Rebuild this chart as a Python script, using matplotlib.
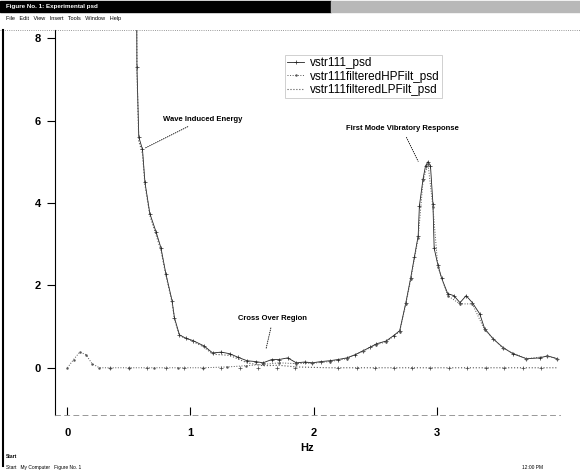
import matplotlib
matplotlib.use("Agg")
import matplotlib.pyplot as plt
from matplotlib.patches import Rectangle

plt.rcParams['font.family'] = ['Liberation Sans', 'DejaVu Sans']

# total psd (measured)
freq_psd = [0.555, 0.565, 0.58, 0.61, 0.63, 0.67, 0.72, 0.76, 0.80, 0.85, 0.87, 0.91, 0.96,
            1.02, 1.11, 1.18, 1.25, 1.32, 1.39, 1.46, 1.53, 1.59, 1.66, 1.72, 1.79, 1.86,
            1.93, 1.99, 2.06, 2.13, 2.20, 2.27, 2.34, 2.40, 2.46, 2.51, 2.59, 2.65, 2.70,
            2.75, 2.79, 2.82, 2.85, 2.86, 2.89, 2.91, 2.93, 2.95, 2.97, 2.98, 3.01, 3.04,
            3.09, 3.14, 3.19, 3.24, 3.29, 3.35, 3.39, 3.46, 3.54, 3.62, 3.73, 3.84, 3.90, 3.98]
val_psd = [14.0, 7.3, 5.6, 5.3, 4.5, 3.74, 3.3, 2.91, 2.28, 1.63, 1.21, 0.8, 0.72,
           0.66, 0.53, 0.36, 0.38, 0.34, 0.25, 0.17, 0.15, 0.12, 0.2, 0.2, 0.24, 0.12,
           0.14, 0.12, 0.15, 0.17, 0.2, 0.24, 0.32, 0.41, 0.5, 0.58, 0.65, 0.78, 0.9,
           1.58, 2.19, 2.7, 3.2, 3.93, 4.59, 4.9, 5.0, 4.9, 3.98, 2.9, 2.5, 2.18,
           1.8, 1.75, 1.58, 1.75, 1.58, 1.31, 0.95, 0.7, 0.49, 0.34, 0.22, 0.24, 0.29, 0.22]

# high pass filtered psd
freq_hp = [0.0, 0.05, 0.10, 0.15, 0.20, 0.26, 0.35, 0.5, 0.7, 0.9, 1.1, 1.3, 1.45, 1.59,
           1.72, 1.86, 1.99, 2.13, 2.27, 2.40, 2.51, 2.59, 2.70, 2.75, 2.79, 2.85, 2.89,
           2.93, 2.97, 3.01, 3.09, 3.19, 3.29, 3.39, 3.54, 3.73, 3.90, 3.98]
val_hp = [0.0, 0.2, 0.38, 0.32, 0.1, 0.0, 0.0, 0.0, 0.0, 0.0, 0.0, 0.02, 0.05, 0.08,
          0.12, 0.1, 0.11, 0.15, 0.22, 0.4, 0.56, 0.63, 0.88, 1.55, 2.15, 3.15, 4.55,
          4.95, 3.9, 2.45, 1.75, 1.55, 1.55, 0.92, 0.47, 0.22, 0.28, 0.22]

# low pass filtered psd
freq_lp = [0.555, 0.565, 0.58, 0.61, 0.63, 0.67, 0.76, 0.80, 0.85, 0.87, 0.91, 1.02,
           1.11, 1.18, 1.32, 1.46, 1.59, 1.72, 1.86, 1.99, 2.13, 2.3, 2.5, 2.8, 3.1,
           3.4, 3.7, 3.98]
val_lp = [14.0, 7.2, 5.5, 5.2, 4.45, 3.7, 2.85, 2.25, 1.6, 1.18, 0.78, 0.64,
          0.5, 0.33, 0.3, 0.12, 0.05, 0.06, 0.02, 0.01, 0.0, 0.0, 0.0, 0.0, 0.0,
          0.0, 0.0, 0.0]

# zero line markers on the flat part of the filtered curves
freq_flat = [0.35, 0.5, 0.65, 0.8, 0.95, 1.1, 1.25, 1.4, 1.55, 1.7, 1.85, 2.2, 2.35,
             2.5, 2.65, 2.8, 2.95, 3.1, 3.25, 3.4, 3.55, 3.7, 3.85]
val_flat = [0.0] * len(freq_flat)

xticks = [0, 1, 2, 3]
yticks = [0, 2, 4, 6, 8]

fig = plt.figure(figsize=(5.8, 4.75), dpi=100)

# window chrome: title bar, menu, border, status bar
fig.patches.append(Rectangle((0.0, 0.975), 0.57, 0.022, transform=fig.transFigure,
                             color='black', zorder=0))
fig.patches.append(Rectangle((0.57, 0.975), 0.43, 0.022, transform=fig.transFigure,
                             color='#b8b8b8', zorder=0))
fig.text(0.01, 0.986, 'Figure No. 1: Experimental psd', color='white', fontsize=4.5,
         fontweight='bold', va='center')
fig.text(0.01, 0.962, 'File   Edit   View   Insert   Tools   Window   Help', fontsize=4,
         va='center')
fig.add_artist(plt.Line2D([0.0, 1.0], [0.937, 0.937], transform=fig.transFigure,
                          color='#777777', lw=0.6, linestyle=':'))
fig.add_artist(plt.Line2D([0.005, 0.005], [0.02, 0.937], transform=fig.transFigure,
                          color='black', lw=1.5))
fig.text(0.01, 0.038, 'Start', fontsize=3.5, fontweight='bold', va='center')
fig.text(0.01, 0.015, 'Start   My Computer   Figure No. 1', fontsize=3.5, va='center')
fig.text(0.90, 0.015, '12:00 PM', fontsize=3.5, va='center')

ax = fig.add_axes([0.095, 0.126, 0.87, 0.811])

ax.plot(freq_psd, val_psd, color='#222222', lw=0.6, marker='+', markersize=3.5,
        markeredgewidth=0.5, label='vstr111_psd')
ax.plot(freq_hp, val_hp, color='#555555', lw=0.7, linestyle=':', marker='.',
        markersize=1.5, label='vstr111filteredHPFilt_psd')
ax.plot(freq_lp, val_lp, color='#555555', lw=0.8, linestyle=':',
        label='vstr111filteredLPFilt_psd')
ax.plot(freq_flat, val_flat, linestyle='none', color='#444444', marker='+',
        markersize=3, markeredgewidth=0.5)

ax.set_xlim(-0.1, 4.0)
ax.set_ylim(-1.15, 8.2)
ax.set_xticks(xticks)
ax.set_yticks(yticks)
ax.tick_params(axis='x', direction='in', length=6, pad=9, labelsize=8)
ax.tick_params(axis='y', direction='out', length=6, pad=4, labelsize=8)
for lbl in ax.get_xticklabels() + ax.get_yticklabels():
    lbl.set_fontweight('bold')
ax.set_xlabel('Hz', fontsize=8, fontweight='bold', labelpad=4)

ax.spines['top'].set_visible(False)
ax.spines['right'].set_visible(False)
ax.spines['left'].set_linewidth(0.8)
ax.spines['bottom'].set_color('#888888')
ax.spines['bottom'].set_linewidth(0.6)
ax.spines['bottom'].set_linestyle((0, (6, 5)))

leg = ax.legend(loc='upper right', bbox_to_anchor=(0.778, 0.95), fontsize=8.5,
                frameon=True, fancybox=False, handlelength=1.4, borderpad=0.2,
                labelspacing=0.1, handletextpad=0.5)
leg.get_frame().set_edgecolor('#bbbbbb')
leg.get_frame().set_linewidth(0.6)

arrow = dict(arrowstyle='-', color='black', lw=0.6, linestyle=':')
ax.annotate('Wave Induced Energy', xy=(0.61, 5.3), xytext=(1.1, 5.95),
            fontsize=5.5, fontweight='bold', ha='center', va='bottom',
            arrowprops=arrow)
ax.annotate('Cross Over Region', xy=(1.61, 0.41), xytext=(1.67, 1.1),
            fontsize=5.5, fontweight='bold', ha='center', va='bottom',
            arrowprops=arrow)
ax.annotate('First Mode Vibratory Response', xy=(2.86, 4.95), xytext=(2.72, 5.72),
            fontsize=5.5, fontweight='bold', ha='center', va='bottom',
            arrowprops=arrow)

fig.savefig('out.png', dpi=100)
